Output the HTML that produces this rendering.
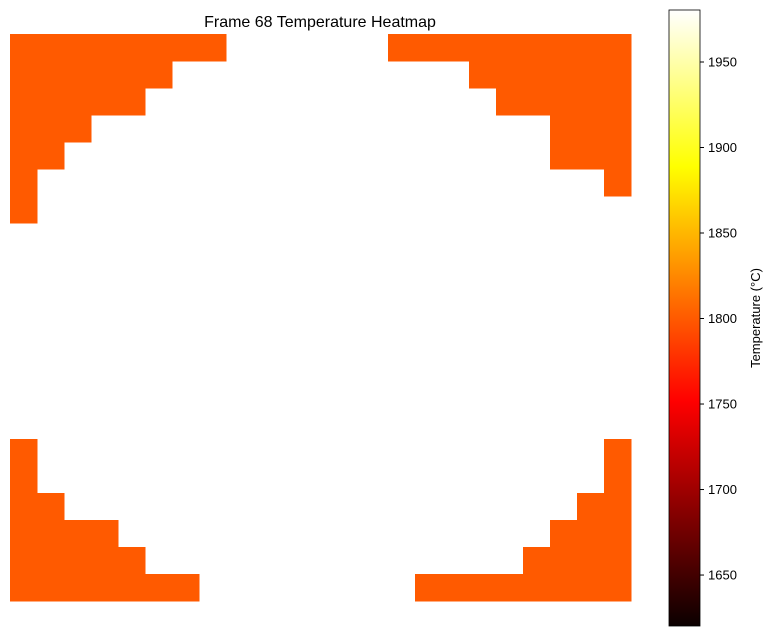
<!DOCTYPE html>
<html><head><meta charset="utf-8"><style>
body{margin:0;background:#fff;font-family:"Liberation Sans","DejaVu Sans",sans-serif;}
</style></head><body>
<svg id="chart" width="774" height="636" xmlns="http://www.w3.org/2000/svg">
<defs>
<linearGradient id="hot" x1="0" y1="1" x2="0" y2="0">
<stop offset="0" stop-color="#0b0000"/>
<stop offset="0.365" stop-color="#ff0000"/>
<stop offset="0.746" stop-color="#ffff00"/>
<stop offset="1" stop-color="#ffffff"/>
</linearGradient>
</defs>
<text x="320" y="27" font-size="16" text-anchor="middle" fill="#000">Frame 68 Temperature Heatmap</text>
<g id="cells"></g>
<rect x="669" y="10" width="31" height="616" fill="url(#hot)" stroke="#000" stroke-width="0.8"/>
<g id="cbticks"></g>
<text transform="translate(760,318) rotate(-90)" font-size="13" text-anchor="middle" fill="#000">Temperature (°C)</text>
</svg>
<script>
const nCols = 23;
// each row: [leftCount, rightStartCol] (rightStart = nCols means none)
const rowLeft  = [8,6,5,3,2,1,1,0,0,0,0,0,0,0,0,1,1,2,4,5,7];
const rowRight = [14,17,18,20,20,22,23,23,23,23,23,23,23,23,23,22,22,21,20,19,15];
const cellTemp = 1800;
const cbTicks = [1650,1700,1750,1800,1850,1900,1950];
const vmin = 1620.2, vmax = 1980.4;

const x0 = 10, y0 = 34, cw = 27, ch = 27;
const xPos = c => x0 + c*cw;
const yPos = r => y0 + r*ch;
const cbY = v => 626 - (v - vmin)/(vmax - vmin)*616;

function hot(v){
  const t = Math.max(0, Math.min(1, (v - vmin)/(vmax - vmin)));
  const r = Math.min(1, t/0.365), g = Math.max(0, Math.min(1, (t-0.365)/0.381)), b = Math.max(0, Math.min(1, (t-0.746)/0.254));
  return `rgb(${Math.round(r*255)},${Math.round(g*255)},${Math.round(b*255)})`;
}
const NS = "http://www.w3.org/2000/svg";
const cells = document.getElementById('cells');
rowLeft.forEach((lc, r) => {
  for (let c = 0; c < nCols; c++) {
    if (c < lc || c >= rowRight[r]) {
      const el = document.createElementNS(NS, 'rect');
      el.setAttribute('x', xPos(c)); el.setAttribute('y', yPos(r));
      el.setAttribute('width', cw + 0.5); el.setAttribute('height', ch + 0.5);
      el.setAttribute('fill', hot(cellTemp));
      
      
      cells.appendChild(el);
    }
  }
});
const tg = document.getElementById('cbticks');
cbTicks.forEach(v => {
  const y = cbY(v);
  const l = document.createElementNS(NS, 'line');
  l.setAttribute('x1', 700); l.setAttribute('x2', 704); l.setAttribute('y1', y); l.setAttribute('y2', y);
  l.setAttribute('stroke', '#000');
  
  
  tg.appendChild(l);
  const t = document.createElementNS(NS, 'text');
  t.setAttribute('x', 708); t.setAttribute('y', y + 4.5); t.setAttribute('font-size', '13');
  t.textContent = v;
  
  
  tg.appendChild(t);
});
</script>
</body></html>
